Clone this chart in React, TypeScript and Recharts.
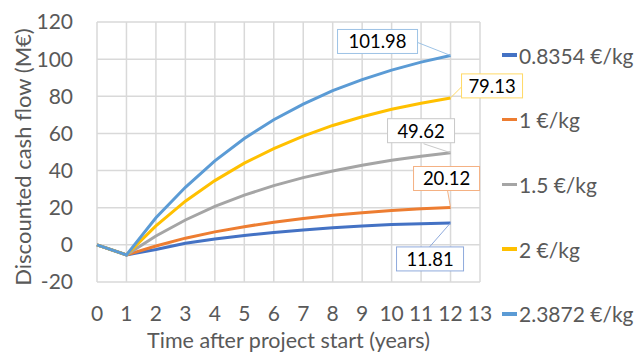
import React from "react";
import { LineChart, Line, XAxis, YAxis, CartesianGrid } from "recharts";

// Years after project start
const years = [0, 1, 2, 3, 4, 5, 6, 7, 8, 9, 10, 11, 12];

// Cumulative discounted cash flow (M€) per hydrogen price
const price08354 = [0, -5.4, -2.5, 0.9, 3.2, 5.1, 6.7, 8.0, 9.2, 10.1, 10.9, 11.4, 11.81];
const price1 = [0, -5.4, -0.6, 3.6, 7.0, 9.8, 12.2, 14.2, 15.9, 17.3, 18.5, 19.4, 20.12];
const price15 = [0, -5.4, 4.8, 13.4, 20.7, 26.8, 31.9, 36.2, 39.8, 42.9, 45.5, 47.7, 49.62];
const price2 = [0, -5.4, 10.2, 23.5, 34.6, 44.0, 51.8, 58.6, 64.3, 69.0, 73.0, 76.3, 79.13];
const price23872 = [0, -5.4, 14.6, 31.0, 45.2, 57.3, 67.4, 75.8, 83.0, 89.0, 94.1, 98.4, 101.98];

const seriesNames = ["0.8354 €/kg", "1 €/kg", "1.5 €/kg", "2 €/kg", "2.3872 €/kg"];
const xTicks = [0, 1, 2, 3, 4, 5, 6, 7, 8, 9, 10, 11, 12, 13];
const yTicks = [-20, 0, 20, 40, 60, 80, 100, 120];

const data = years.map((t, i) => ({
  t,
  s0: price08354[i],
  s1: price1[i],
  s2: price15[i],
  s3: price2[i],
  s4: price23872[i],
}));

const FONT = "Lato, 'Open Sans', sans-serif";
const AXIS_TEXT = "#595959";

// Styling of each line and of its end-value callout (box offset from the point, leader anchor)
const series = [
  { key: "s0", color: "#4472C4", border: "#8FAADC", box: { dx: -54, dy: 24, w: 67, h: 24 }, lead: { dx: -21, dy: 24 } },
  { key: "s1", color: "#ED7D31", border: "#F4B183", box: { dx: -37, dy: -41, w: 66, h: 24 }, lead: { dx: -3, dy: -17 } },
  { key: "s2", color: "#A5A5A5", border: "#C9C9C9", box: { dx: -63, dy: -34, w: 67, h: 24 }, lead: { dx: -27, dy: -9 } },
  { key: "s3", color: "#FFC000", border: "#FFD966", box: { dx: 11, dy: -24, w: 61, h: 24 }, lead: { dx: 11, dy: -11 } },
  { key: "s4", color: "#5B9BD5", border: "#9DC3E6", box: { dx: -113, dy: -26, w: 80, h: 24 }, lead: { dx: -33, dy: -13 } },
];

const makeCallout = (idx: number) => (props: any) => {
  const { x, y, index, value } = props;
  if (index !== years.length - 1 || x == null || y == null) return null;
  const s = series[idx];
  const bx = x + s.box.dx;
  const by = y + s.box.dy;
  return (
    <g key={`callout-${idx}`}>
      <line x1={x} y1={y} x2={x + s.lead.dx} y2={y + s.lead.dy} stroke={s.border} strokeWidth={1} />
      <rect x={bx} y={by} width={s.box.w} height={s.box.h} fill="#FFFFFF" stroke={s.border} strokeWidth={1} />
      <text
        x={bx + s.box.w / 2}
        y={by + s.box.h / 2}
        textAnchor="middle"
        dominantBaseline="central"
        fontFamily={FONT}
        fontSize={18.5}
        fill="#000000"
      >
        {Number(value).toFixed(2)}
      </text>
    </g>
  );
};

const LegendBlock = () => (
  <div style={{ position: "absolute", left: 502, top: 22.7, width: 133, fontFamily: FONT }}>
    {series.map((s, i) => (
      <div key={s.key} style={{ height: 64.7, display: "flex", alignItems: "center" }}>
        <div style={{ width: 15, height: 3.5, background: s.color, marginRight: 2 }} />
        <span style={{ fontSize: 21, color: AXIS_TEXT, whiteSpace: "nowrap" }}>{seriesNames[i]}</span>
      </div>
    ))}
  </div>
);

const YTitle = () => {
  const cx = 31;
  const cy = 157;
  return (
    <text
      x={cx}
      y={cy}
      transform={`rotate(-90, ${cx}, ${cy})`}
      textAnchor="middle"
      fontFamily={FONT}
      fontSize={22}
      fill={AXIS_TEXT}
    >
      Discounted cash flow  (M€)
    </text>
  );
};

const XTitle = (props: any) => {
  const vb = props.viewBox;
  return (
    <text
      x={vb.x + vb.width / 2}
      y={348}
      textAnchor="middle"
      fontFamily={FONT}
      fontSize={21.5}
      fill={AXIS_TEXT}
    >
      Time after project start (years)
    </text>
  );
};

export default function App() {
  return (
    <div style={{ position: "absolute", left: 0, top: 0, width: 635, height: 354, background: "#FFFFFF" }}>
      <LineChart
        width={635}
        height={354}
        data={data}
        margin={{ top: 22, right: 155, bottom: 0, left: 0 }}
      >
        <CartesianGrid stroke="#D9D9D9" strokeWidth={1.5} horizontal vertical />
        <XAxis
          dataKey="t"
          type="number"
          domain={[0, 13]}
          ticks={xTicks}
          interval={0}
          axisLine={false}
          tickLine={false}
          tickSize={0}
          tickMargin={24}
          tick={{ fill: AXIS_TEXT, fontSize: 21, fontFamily: FONT }}
          height={72}
          label={<XTitle />}
        />
        <YAxis
          type="number"
          domain={[-20, 120]}
          ticks={yTicks}
          interval={0}
          axisLine={false}
          tickLine={false}
          tickSize={0}
          tickMargin={24}
          width={97}
          tick={{ fill: AXIS_TEXT, fontSize: 21, fontFamily: FONT }}
          label={<YTitle />}
        />
        {series.map((s, i) => (
          <Line
            key={s.key}
            dataKey={s.key}
            name={seriesNames[i]}
            type="linear"
            stroke={s.color}
            strokeWidth={3}
            dot={false}
            activeDot={false}
            isAnimationActive={false}
            label={makeCallout(i)}
          />
        ))}
      </LineChart>
      <LegendBlock />
    </div>
  );
}
